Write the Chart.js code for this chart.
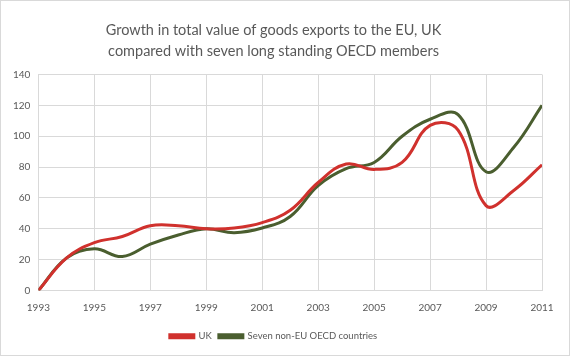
<!DOCTYPE html>
<html>
<head>
<meta charset="utf-8">
<script src="https://cdn.jsdelivr.net/npm/chart.js@4/dist/chart.umd.min.js"></script>
<style>
  html, body { margin: 0; padding: 0; background: #fff; }
  #wrap { position: relative; width: 568px; height: 354px; border: 1px solid #d9d9d9; }
  canvas { display: block; }
</style>
</head>
<body>
<div id="wrap"><canvas id="c" width="568" height="354"></canvas></div>
<script>
const titleLines = ["Growth in total value of goods exports to the EU, UK", "compared with seven long standing OECD members"];
const years = [1993,1994,1995,1996,1997,1998,1999,2000,2001,2002,2003,2004,2005,2006,2007,2008,2009,2010,2011];
const ukValues = [0, 21, 31, 35, 42, 42, 40, 40.5, 44, 52, 70, 82, 78.5, 83, 107, 104, 55, 65, 81.5];
const oecdValues = [0, 21, 27, 22, 30, 36, 40, 37.5, 40.5, 48, 68, 79, 83, 100, 111, 114, 77, 93, 120];
const seriesNames = ["UK", "Seven non-EU OECD countries"];
const yTicks = { min: 0, max: 140, step: 20 };

const toPoints = vals => years.map((y, i) => ({ x: y, y: vals[i] }));

new Chart(document.getElementById('c'), {
  type: 'line',
  data: {
    datasets: [
      { label: seriesNames[0], data: toPoints(ukValues), borderColor: '#d0312d', backgroundColor: '#d0312d', borderWidth: 3, pointRadius: 0, tension: 0.4, fill: false },
      { label: seriesNames[1], data: toPoints(oecdValues), borderColor: '#4a5e2f', backgroundColor: '#4a5e2f', borderWidth: 3, pointRadius: 0, tension: 0.4, fill: false }
    ]
  },
  options: {
    responsive: false,
    animation: false,
    layout: { padding: { left: 4, right: 27, top: 6, bottom: 4 } },
    plugins: {
      title: { display: true, text: titleLines, color: '#595959', font: { family: 'Lato', size: 14.5, weight: 'normal', lineHeight: 1.5 }, padding: { top: 12, bottom: 12 } },
      legend: { position: 'bottom', labels: { color: '#595959', font: { family: 'Lato', size: 9.5 }, boxWidth: 24, boxHeight: 3, padding: 7 } },
      tooltip: { enabled: false }
    },
    scales: {
      x: {
        type: 'linear', min: years[0], max: years[years.length - 1],
        grid: { color: '#d9d9d9', drawTicks: false },
        border: { color: '#d9d9d9' },
        ticks: { stepSize: 2, color: '#595959', font: { family: 'Lato', size: 10 }, padding: 11, callback: v => String(v), maxRotation: 0 }
      },
      y: {
        min: yTicks.min, max: yTicks.max,
        grid: { color: '#d9d9d9', drawTicks: false },
        border: { color: '#d9d9d9' },
        ticks: { stepSize: yTicks.step, color: '#595959', font: { family: 'Lato', size: 10 }, padding: 8 }
      }
    }
  }
});
</script>
</body>
</html>
